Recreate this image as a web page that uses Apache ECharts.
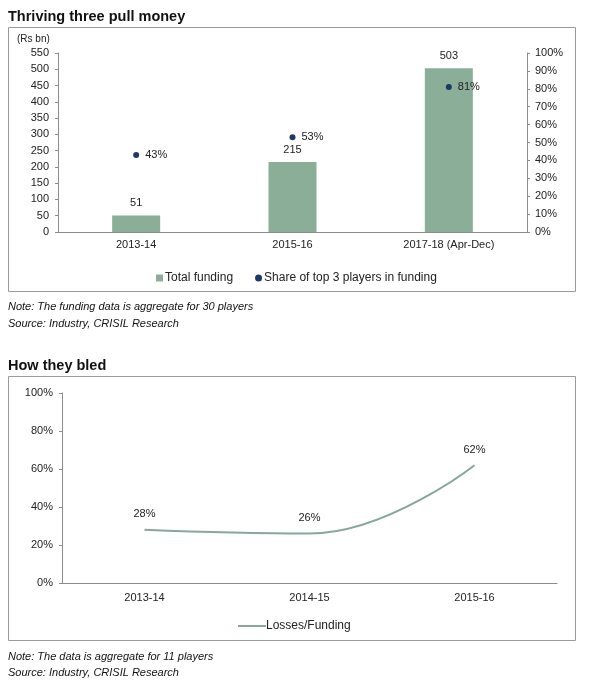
<!DOCTYPE html>
<html>
<head>
<meta charset="utf-8">
<script src="https://cdn.jsdelivr.net/npm/echarts@6/dist/echarts.min.js"></script>
<style>
html,body{margin:0;padding:0;background:#fff;}
#c{width:601px;height:689px;}
</style>
</head>
<body>
<div id="c"></div>
<script>
// ---- data ----
var fundCategories = ['2013-14', '2015-16', '2017-18 (Apr-Dec)'];
var totalFunding = [51, 215, 503];
var top3Share = [43, 53, 81];
var lossCategories = ['2013-14', '2014-15', '2015-16'];
var lossesFunding = [28, 26, 62];

var FONT = '"Liberation Sans", Arial, sans-serif';
var TXT = '#222';
var AX = '#8c8c8c';
var BAR = '#8aae98';
var DOT = '#1f3864';
var LINE = '#86a898';

var chart = echarts.init(document.getElementById('c'), null, {renderer: 'canvas'});
var pct = function (v) { return Math.round(v) + '%'; };

var option = {
  animation: false,
  textStyle: {fontFamily: FONT, color: TXT},
  title: [
    {text: 'Thriving three pull money', left: 8, top: 9, padding: 0,
     textStyle: {fontSize: 14.5, fontWeight: 'bold', color: '#111', fontFamily: FONT}},
    {text: 'How they bled', left: 8, top: 358, padding: 0,
     textStyle: {fontSize: 14.5, fontWeight: 'bold', color: '#111', fontFamily: FONT}}
  ],
  graphic: [
    {type: 'rect', shape: {x: 8.5, y: 27.5, width: 567, height: 264}, style: {fill: 'none', stroke: '#9a9a9a', lineWidth: 1}, z: -1},
    {type: 'rect', shape: {x: 8.5, y: 376.5, width: 567, height: 264}, style: {fill: 'none', stroke: '#9a9a9a', lineWidth: 1}, z: -1},
    {type: 'text', left: 17, top: 34, style: {text: '(Rs bn)', font: '10px ' + FONT, fill: TXT}},
    {type: 'text', left: 8, top: 301, style: {text: 'Note: The funding data is aggregate for 30 players', font: 'italic 11px ' + FONT, fill: '#111'}},
    {type: 'text', left: 8, top: 318, style: {text: 'Source: Industry, CRISIL Research', font: 'italic 11px ' + FONT, fill: '#111'}},
    {type: 'text', left: 8, top: 651, style: {text: 'Note: The data is aggregate for 11 players', font: 'italic 11px ' + FONT, fill: '#111'}},
    {type: 'text', left: 8, top: 667, style: {text: 'Source: Industry, CRISIL Research', font: 'italic 11px ' + FONT, fill: '#111'}}
  ],
  legend: [
    {left: 151, top: 267, itemWidth: 7, itemHeight: 7, itemGap: 22,
     textStyle: {fontSize: 12, color: TXT, fontFamily: FONT, padding: [0, 0, 0, -3]},
     data: [{name: 'Total funding', icon: 'rect'}, {name: 'Share of top 3 players in funding', icon: 'circle'}]},
    {left: 233, top: 615, itemWidth: 28, itemHeight: 2, icon: 'rect',
     textStyle: {fontSize: 12, color: TXT, fontFamily: FONT, padding: [0, 0, 0, -5]},
     data: ['Losses/Funding']}
  ],
  grid: [
    {left: 58, right: 74, top: 53, bottom: 457},
    {left: 62, right: 44, top: 393, bottom: 106}
  ],
  xAxis: [
    {type: 'category', gridIndex: 0, data: fundCategories,
     axisLine: {lineStyle: {color: AX}}, axisTick: {show: false},
     axisLabel: {fontSize: 11, color: TXT, margin: 7, fontFamily: FONT}},
    {type: 'category', gridIndex: 1, data: lossCategories,
     axisLine: {lineStyle: {color: AX}}, axisTick: {show: false},
     axisLabel: {fontSize: 11, color: TXT, margin: 9, fontFamily: FONT}}
  ],
  yAxis: [
    {type: 'value', gridIndex: 0, min: 0, max: 550, interval: 50,
     axisLine: {show: true, lineStyle: {color: AX}}, axisTick: {show: true, length: 3, lineStyle: {color: AX}},
     splitLine: {show: false}, axisLabel: {fontSize: 11, color: TXT, margin: 9, fontFamily: FONT}},
    {type: 'value', gridIndex: 0, position: 'right', min: 0, max: 100, interval: 10,
     axisLine: {show: true, lineStyle: {color: AX}}, axisTick: {show: true, length: 3, lineStyle: {color: AX}},
     splitLine: {show: false}, axisLabel: {fontSize: 11, color: TXT, margin: 8, fontFamily: FONT, formatter: pct}},
    {type: 'value', gridIndex: 1, min: 0, max: 100, interval: 20,
     axisLine: {show: true, lineStyle: {color: AX}}, axisTick: {show: true, length: 3, lineStyle: {color: AX}},
     splitLine: {show: false}, axisLabel: {fontSize: 11, color: TXT, margin: 9, fontFamily: FONT, formatter: pct}}
  ],
  series: [
    {name: 'Total funding', type: 'bar', xAxisIndex: 0, yAxisIndex: 0, data: totalFunding,
     barWidth: 48, itemStyle: {color: BAR},
     label: {show: true, position: 'top', distance: 7, fontSize: 11, color: TXT, fontFamily: FONT}},
    {name: 'Share of top 3 players in funding', type: 'scatter', xAxisIndex: 0, yAxisIndex: 1, data: top3Share,
     symbol: 'circle', symbolSize: 6, itemStyle: {color: DOT, opacity: 1}, z: 5,
     label: {show: true, position: 'right', distance: 6, fontSize: 11, color: TXT, opacity: 1, fontFamily: FONT,
             formatter: function (p) { return p.value + '%'; }}},
    {name: 'Losses/Funding', type: 'line', xAxisIndex: 1, yAxisIndex: 2, data: lossesFunding,
     smooth: 0.45, symbol: 'circle', symbolSize: 0, showSymbol: true,
     lineStyle: {color: LINE, width: 2}, itemStyle: {color: LINE},
     label: {show: true, position: 'top', distance: 10, fontSize: 11, color: TXT, fontFamily: FONT,
             formatter: function (p) { return p.value + '%'; }}}
  ]
};
chart.setOption(option);
</script>
</body>
</html>
